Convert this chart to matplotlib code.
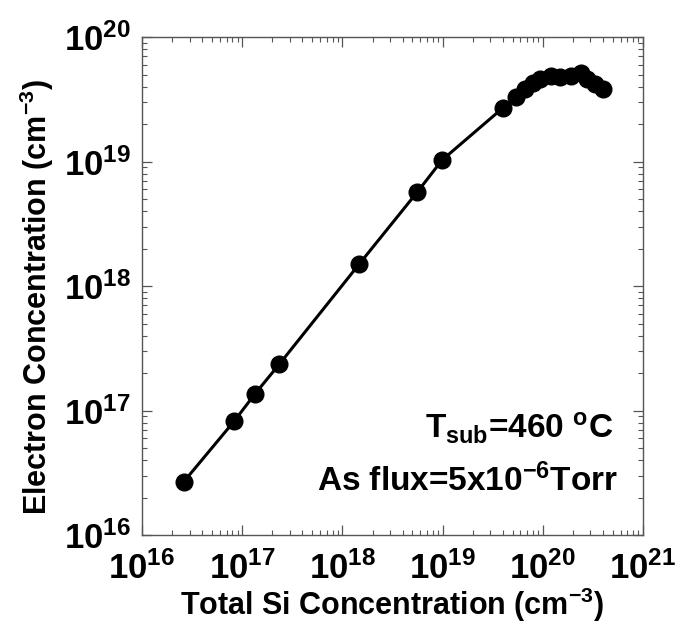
import matplotlib
matplotlib.use("Agg")
import matplotlib.pyplot as plt
from matplotlib.ticker import LogLocator, FixedLocator, NullFormatter

plt.rcParams['font.family'] = ['Liberation Sans', 'DejaVu Sans']
plt.rcParams['font.weight'] = 'bold'
plt.rcParams['mathtext.fontset'] = 'custom'
plt.rcParams['mathtext.rm'] = 'Liberation Sans:bold'
plt.rcParams['mathtext.bf'] = 'Liberation Sans:bold'
plt.rcParams['mathtext.it'] = 'Liberation Sans:bold'
plt.rcParams['mathtext.sf'] = 'Liberation Sans:bold'

# total Si vs electron concentration (cm^-3)
si_conc = [2.6e16, 8.3e16, 1.34e17, 2.35e17, 1.47e18, 5.6e18, 9.9e18,
           4.0e19, 5.4e19, 6.6e19, 8.0e19, 9.5e19, 1.21e20, 1.49e20,
           1.92e20, 2.4e20, 2.8e20, 3.3e20, 4.0e20]
electron_conc = [2.67e16, 8.2e16, 1.36e17, 2.36e17, 1.5e18, 5.7e18, 1.03e19,
                 2.7e19, 3.3e19, 3.8e19, 4.3e19, 4.6e19, 4.85e19, 4.75e19,
                 4.85e19, 5.2e19, 4.6e19, 4.2e19, 3.8e19]

x_ticks = [1e16, 1e17, 1e18, 1e19, 1e20, 1e21]
x_ticklabels = [r'$\mathbf{10^{16}}$', r'$\mathbf{10^{17}}$', r'$\mathbf{10^{18}}$',
                r'$\mathbf{10^{19}}$', r'$\mathbf{10^{20}}$', r'$\mathbf{10^{21}}$']
y_ticks = [1e16, 1e17, 1e18, 1e19, 1e20]
y_ticklabels = x_ticklabels[:5]

fig = plt.figure(figsize=(6.75, 6.27), dpi=100)
ax = fig.add_axes([0.2104, 0.1467, 0.742, 0.794])

ax.plot(si_conc, electron_conc, color='black', lw=2.2, marker='o',
        markersize=12, markerfacecolor='black', markeredgecolor='black')

ax.set_xscale('log')
ax.set_yscale('log')
ax.set_xlim(1e16, 1e21)
ax.set_ylim(1e16, 1e20)

ax.xaxis.set_major_locator(FixedLocator(x_ticks))
ax.set_xticklabels(x_ticklabels)
ax.yaxis.set_major_locator(FixedLocator(y_ticks))
ax.set_yticklabels(y_ticklabels)
for axis in (ax.xaxis, ax.yaxis):
    axis.set_minor_locator(LogLocator(base=10, subs=range(2, 10), numticks=20))
    axis.set_minor_formatter(NullFormatter())

ax.tick_params(which='both', direction='in', top=True, right=True,
               color='#555555', labelsize=25)
ax.tick_params(which='major', length=7, width=0.9)
ax.tick_params(which='minor', length=3.5, width=0.8)
ax.tick_params(axis='x', which='major', pad=12)
ax.tick_params(axis='y', which='major', pad=8)
for sp in ax.spines.values():
    sp.set_color('#555555')
    sp.set_linewidth(1.0)

ax.set_xlabel(r'Total Si Concentration (cm$^{\mathbf{-3}}$)', fontsize=22,
              fontweight='bold', labelpad=0)
ax.set_ylabel(r'Electron Concentration (cm$^{\mathbf{-3}}$)', fontsize=22,
              fontweight='bold')
ax.yaxis.set_label_coords(-0.172, 0.478)

ax.text(0.94, 0.195, r'$\mathbf{T_{sub}}$=460 $^{\mathbf{o}}$C', transform=ax.transAxes,
        ha='right', va='baseline', fontsize=24, fontweight='bold')
ax.text(0.95, 0.088, r'As flux=5x10$^{\mathbf{-6}}$Torr', transform=ax.transAxes,
        ha='right', va='baseline', fontsize=24, fontweight='bold')

fig.savefig('out.png', dpi=100)
